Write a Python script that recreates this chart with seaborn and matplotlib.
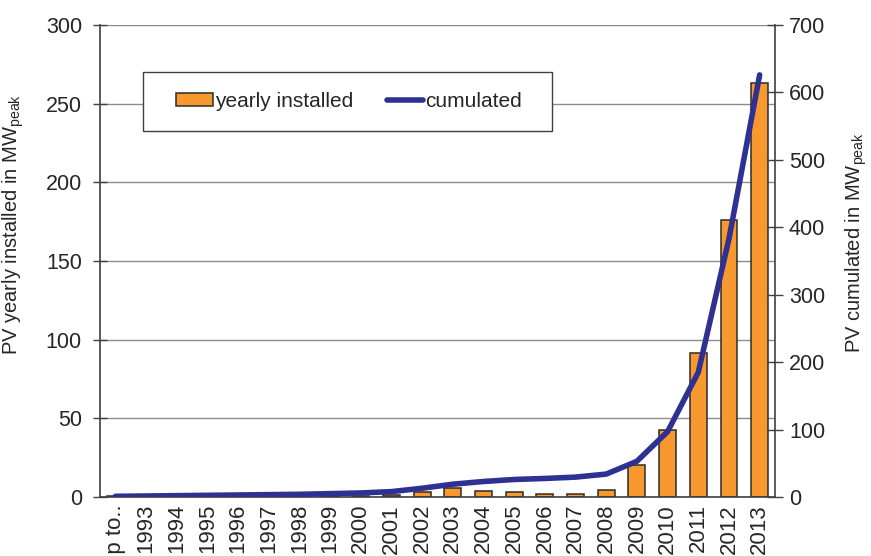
import numpy as np
import pandas as pd
import seaborn as sns
import matplotlib
matplotlib.use('Agg')
import matplotlib.pyplot as plt
from matplotlib.patches import Rectangle

# values
years = ['up to..', '1993', '1994', '1995', '1996', '1997', '1998', '1999', '2000', '2001',
         '2002', '2003', '2004', '2005', '2006', '2007', '2008', '2009', '2010', '2011',
         '2012', '2013']
yearly = [0.5, 0.1, 0.1, 0.2, 0.2, 0.3, 0.4, 0.5, 0.6, 1.0,
          3.0, 5.9, 4.0, 3.0, 1.7, 2.1, 4.5, 20.3, 42.6, 91.5,
          176, 263]
cumulated = [1, 1.5, 2, 2.5, 3, 3.5, 4, 5, 6, 8,
             13, 19, 23, 26, 27.5, 29.5, 34, 53, 97, 185,
             383, 626]

df = pd.DataFrame({'year': years, 'yearly': yearly, 'cumulated': cumulated})
df['pos'] = np.arange(len(df))

sns.set_style('white')
plt.rcParams['font.family'] = ['Liberation Sans', 'DejaVu Sans']
plt.rcParams['mathtext.fontset'] = 'custom'
plt.rcParams['mathtext.rm'] = 'Liberation Sans'

fig = plt.figure(figsize=(8.71, 5.56), dpi=100)
ax = fig.add_axes([100 / 871, 1 - 497 / 556, 675 / 871, 472 / 556])

sns.barplot(data=df, x='year', y='yearly', ax=ax, color='#F7992F', saturation=1,
            edgecolor='#2b2b2b', linewidth=1.1, width=0.55, label='yearly installed')
if ax.get_legend() is not None:
    ax.get_legend().remove()
ax.set_axisbelow(True)
ax.yaxis.grid(True, color='#8c8c8c', lw=1)
ax.set_ylim(0, 300)
ax.set_yticks(range(0, 301, 50))
ax.set_xlim(-0.5, len(years) - 0.5)

# category labels in the middle, tick marks on the boundaries
ax.set_xticks(df['pos'], years, minor=True)
ax.set_xticks(np.arange(-0.5, len(years), 1))
ax.set_xticklabels([])
ax.tick_params(axis='x', which='minor', length=0, rotation=90, labelsize=16, pad=5)
ax.tick_params(axis='x', which='major', direction='inout', length=9.5, width=1, color='#404040')
ax.tick_params(axis='y', direction='inout', length=10, width=1, color='#404040',
               labelsize=15.5, pad=8, left=True)
for lab in ax.get_xticklabels(minor=True):
    lab.set_va('top')
ax.set_xlabel('')
ax.set_ylabel('PV yearly installed in MW$_\\mathregular{peak}$', fontsize=14.5)
ax.yaxis.set_label_coords((26 - 100) / 675, (497 - 224.5) / 472)

for side in ['left', 'bottom']:
    ax.spines[side].set_color('#404040')
    ax.spines[side].set_linewidth(1.2)
ax.spines['top'].set_visible(False)
ax.spines['right'].set_visible(False)

ax2 = ax.twinx()
sns.lineplot(data=df, x='pos', y='cumulated', ax=ax2, color='#2E3192', lw=4,
             solid_capstyle='round', label='cumulated', legend=False)
ax2.set_ylim(0, 700)
ax2.set_yticks(range(0, 701, 100))
ax2.set_ylabel('PV cumulated in MW$_\\mathregular{peak}$', fontsize=14.5)
ax2.yaxis.set_label_coords((843 - 100) / 675, (497 - 243) / 472)
ax2.tick_params(axis='y', direction='inout', length=12, width=1, color='#404040',
                labelsize=15.5, pad=4, right=True)
for side in ['top', 'left', 'bottom']:
    ax2.spines[side].set_visible(False)
ax2.spines['right'].set_color('#404040')
ax2.spines['right'].set_linewidth(1.2)

# legend box
rect = Rectangle((143 / 871, 1 - 131 / 556), 409 / 871, 59 / 556, transform=fig.transFigure,
                 facecolor='white', edgecolor='#404040', lw=1, clip_on=False, zorder=5)
ax2.add_patch(rect)
handles = [ax.containers[0], ax2.lines[0]]
leg = ax2.legend(handles, ['yearly installed', 'cumulated'], ncol=2, frameon=False,
                 loc='center left', bbox_to_anchor=(166 / 871, 1 - 101.5 / 556),
                 bbox_transform=fig.transFigure, borderpad=0, fontsize=15,
                 handlelength=1.75, handleheight=0.55, handletextpad=0.1,
                 columnspacing=1.6)
leg.set_zorder(6)

fig.savefig('out.png', dpi=100)
